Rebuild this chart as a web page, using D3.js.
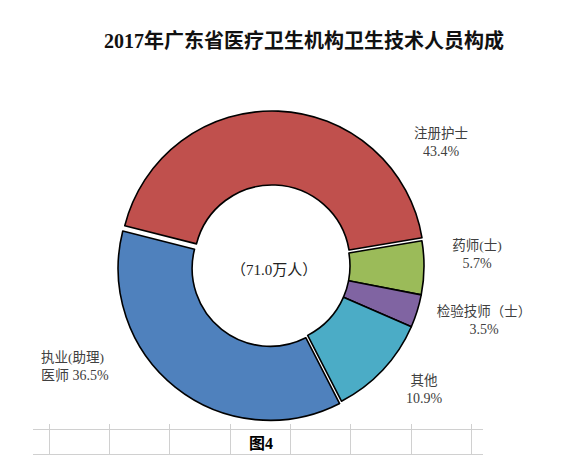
<!DOCTYPE html>
<html>
<head>
<meta charset="utf-8">
<script src="https://cdn.jsdelivr.net/npm/d3@7"></script>
<style>
  html, body { margin: 0; padding: 0; background: #fff; }
  svg { display: block; }
</style>
</head>
<body>
<svg id="chart" width="574" height="471"></svg>
<script>
// ---- data ----
const categories = ["注册护士", "药师(士)", "检验技师（士）", "其他", "执业(助理)医师"];
const values = [43.4, 5.7, 3.5, 10.9, 36.5];
const labelLine1 = ["注册护士", "药师(士)", "检验技师（士）", "其他", "执业(助理)"];
const labelLine2 = ["43.4%", "5.7%", "3.5%", "10.9%", "医师 36.5%"];
const exploded = [true, false, false, false, true];
const titleText = "2017年广东省医疗卫生机构卫生技术人员构成";
const centerText = "（71.0万人）";
const captionText = "图4";

// ---- style / layout ----
const colors = ["#C0504D", "#9BBB59", "#8064A2", "#4BACC6", "#4F81BD"];
const labelLayout = [
  { x: 441, y: 133, anchor: "middle" },
  { x: 477, y: 245, anchor: "middle" },
  { x: 484, y: 311, anchor: "middle" },
  { x: 424, y: 380, anchor: "middle" },
  { x: 41,  y: 357, anchor: "start" }
];
const cx = 272, cy = 266, outerR = 152, innerR = 78, explodeDist = 3;
const startDeg = -75.8;
const fontStack = "'Liberation Serif', 'Noto Sans CJK SC', serif";

const svg = d3.select("#chart");

svg.append("text")
  .attr("x", 304).attr("y", 48)
  .attr("text-anchor", "middle")
  .attr("font-family", fontStack)
  .attr("font-weight", "bold")
  .attr("font-size", 20)
  .attr("fill", "#111")
  .text(titleText);

const pie = d3.pie().sort(null).value(d => d)
  .startAngle(startDeg * Math.PI / 180)
  .endAngle(startDeg * Math.PI / 180 + 2 * Math.PI);
const arcs = pie(values);
const arc = d3.arc().innerRadius(innerR).outerRadius(outerR);

const g = svg.append("g").attr("transform", `translate(${cx},${cy})`);
g.selectAll("path.slice")
  .data(arcs)
  .join("path")
  .attr("class", "slice")
  .attr("d", arc)
  .attr("fill", (d, i) => colors[i])
  .attr("stroke", "#000")
  .attr("stroke-width", 1.6)
  .attr("stroke-linejoin", "round")
  .attr("transform", (d, i) => {
    if (!exploded[i]) return null;
    const a = (d.startAngle + d.endAngle) / 2;
    return `translate(${explodeDist * Math.sin(a)},${-explodeDist * Math.cos(a)})`;
  });

g.append("text")
  .attr("x", 2).attr("y", 9)
  .attr("text-anchor", "middle")
  .attr("font-family", fontStack)
  .attr("font-size", 15)
  .attr("fill", "#222")
  .text(centerText);

const labels = svg.selectAll("g.lbl")
  .data(arcs)
  .join("g")
  .attr("class", "lbl");
labels.append("text")
  .attr("x", (d, i) => labelLayout[i].x)
  .attr("y", (d, i) => labelLayout[i].y + 5)
  .attr("text-anchor", (d, i) => labelLayout[i].anchor)
  .attr("font-family", fontStack)
  .attr("font-size", 13.5)
  .attr("fill", "#404040")
  .text((d, i) => labelLine1[i]);
labels.append("text")
  .attr("x", (d, i) => labelLayout[i].x)
  .attr("y", (d, i) => labelLayout[i].y + 23)
  .attr("text-anchor", (d, i) => labelLayout[i].anchor)
  .attr("font-family", fontStack)
  .attr("font-size", 14)
  .attr("fill", "#404040")
  .text((d, i) => labelLine2[i]);

// ---- bottom table grid ----
const gridX = [49, 109, 169, 230, 290, 350, 411, 471];
const grid = svg.append("g").attr("stroke", "#d0d0d0").attr("stroke-width", 1).attr("shape-rendering", "crispEdges");
[429, 454].forEach(y => grid.append("line").attr("x1", 33).attr("x2", 483).attr("y1", y).attr("y2", y));
gridX.forEach(x => grid.append("line").attr("x1", x).attr("x2", x).attr("y1", 424).attr("y2", 454));

svg.append("text")
  .attr("x", 261).attr("y", 449)
  .attr("text-anchor", "middle")
  .attr("font-family", fontStack)
  .attr("font-weight", "bold")
  .attr("font-size", 16)
  .attr("fill", "#000")
  .text(captionText);
</script>
</body>
</html>
